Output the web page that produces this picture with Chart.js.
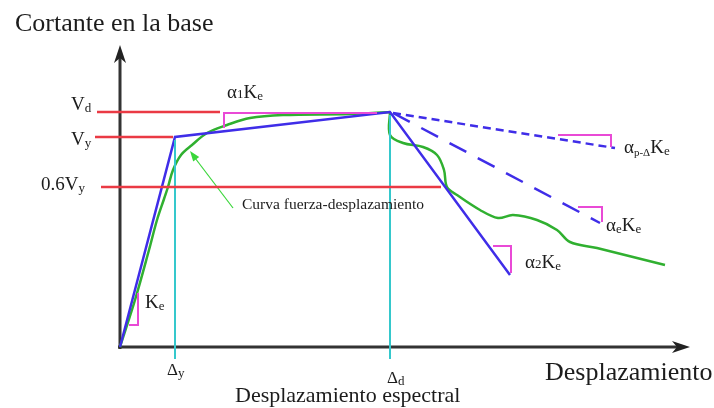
<!DOCTYPE html>
<html>
<head>
<meta charset="utf-8">
<script src="https://cdn.jsdelivr.net/npm/chart.js@4/dist/chart.umd.min.js"></script>
<style>
  html, body { margin: 0; padding: 0; background: #fff; }
  #wrap { width: 714px; height: 408px; }
</style>
</head>
<body>
<div id="wrap"><canvas id="pushover" width="714" height="408"></canvas></div>
<script>
// Values read off the picture, in picture units measured from the origin
// (x = displacement, y = base shear)
const dy = 55, dd = 270;            // Δy, Δd
const vy = 210, vd = 235, v06 = 160; // Vy, Vd, 0.6Vy

const bilinearX = [0, dy, dd, 390];
const bilinearY = [0, vy, vd, 72];

const pdeltaX = [273, 495];
const pdeltaY = [234, 199];
const alphaeX = [273, 480];
const alphaeY = [234, 124];

const curveUpX = [0, 15, 29, 37, 44, 48, 53, 61, 72, 87, 107, 130, 163, 230, 270];
const curveUpY = [0, 47, 97, 127, 148, 160, 177, 192, 202, 214, 222, 229, 232, 233, 235];
const curveDownX = [270, 270, 283, 303, 317, 324, 327, 337, 360, 378, 393, 417, 437, 450, 477, 545];
const curveDownY = [235, 212, 204, 200, 192, 177, 160, 152, 137, 129, 132, 127, 117, 105, 99, 82];

// slope markers (corner-to-corner polylines)
const markerKe = [[18, 54], [18, 22], [9, 22]];
const markerA1 = [[104, 219], [104, 234], [257, 234]];
const markerPD = [[438, 212], [491, 212], [491, 200]];
const markerAe = [[458, 140], [482, 140], [482, 125]];
const markerA2 = [[373, 101], [391, 101], [391, 74]];

const axisTop = 302, axisRight = 570;

function pts(xs, ys) {
    return xs.map((x, i) => ({ x: x, y: ys[i] }));
}
function poly(list) {
    return list.map(p => ({ x: p[0], y: p[1] }));
}

const red = '#ea3a44', cyan = '#35c8cc', blue = '#3f2de8', green = '#30b030', pink = '#e94ad6', ink = '#1c1c1c';

function lineSet(data, color, width, extra) {
    return Object.assign({
        data: data,
        showLine: true,
        borderColor: color,
        borderWidth: width,
        pointRadius: 0,
        fill: false,
        tension: 0
    }, extra || {});
}

const datasets = [
    lineSet([{ x: -23, y: vd }, { x: 100, y: vd }], red, 2.5),
    lineSet([{ x: -25, y: vy }, { x: 53, y: vy }], red, 2.5),
    lineSet([{ x: -19, y: v06 }, { x: 321, y: v06 }], red, 2.5),
    lineSet([{ x: dy, y: vy - 3 }, { x: dy, y: -12 }], cyan, 2),
    lineSet([{ x: dd, y: vd - 3 }, { x: dd, y: -12 }], cyan, 2),
    lineSet(poly(markerKe), pink, 2),
    lineSet(poly(markerA1), pink, 2),
    lineSet(poly(markerPD), pink, 2),
    lineSet(poly(markerAe), pink, 2),
    lineSet(poly(markerA2), pink, 2),
    lineSet(pts(bilinearX, bilinearY), blue, 2.5),
    lineSet(pts(curveUpX, curveUpY), green, 2.5, { tension: 0.35 }),
    lineSet(pts(curveDownX, curveDownY), green, 2.5, { tension: 0.35 }),
    lineSet(pts(pdeltaX, pdeltaY), blue, 2.5, { borderDash: [8, 5] }),
    lineSet(pts(alphaeX, alphaeY), blue, 2.5, { borderDash: [19, 13] }),
    lineSet([{ x: 113, y: 139 }, { x: 72, y: 193 }], '#3ad63a', 1.2),
    lineSet([{ x: -2, y: 0 }, { x: axisRight - 8, y: 0 }], '#333', 3),
    lineSet([{ x: 0, y: -2 }, { x: 0, y: axisTop - 8 }], '#333', 3)
];

// text runs: [text, size, baseline shift]
const SERIF = '"Liberation Serif", "Times New Roman", serif';
const labels = [
    { x: -49, y: 237, runs: [['V', 19, 0], ['d', 13, 2]] },
    { x: -49, y: 202, runs: [['V', 19, 0], ['y', 13, 2]] },
    { x: -79, y: 157, runs: [['0.6V', 19, 0], ['y', 13, 2]] },
    { x: 47, y: -28, runs: [['Δ', 17, 0], ['y', 13, 2]] },
    { x: 267, y: -36, runs: [['Δ', 17, 0], ['d', 13, 2]] },
    { x: 107, y: 249, runs: [['α', 19, 0], ['1', 13, 0], ['K', 19, 0], ['e', 13, 2]] },
    { x: 504, y: 194, runs: [['α', 19, 0], ['p-Δ', 11, 3], ['K', 19, 0], ['e', 13, 2]] },
    { x: 486, y: 116, runs: [['α', 19, 0], ['e', 13, 2], ['K', 19, 0], ['e', 13, 2]] },
    { x: 405, y: 79, runs: [['α', 19, 0], ['2', 13, 0], ['K', 19, 0], ['e', 13, 2]] },
    { x: 25, y: 39, runs: [['K', 19, 0], ['e', 13, 2]] },
    { x: 122, y: 138, runs: [['Curva fuerza-desplazamiento', 15.5, 0]] },
    { x: 115, y: -55, runs: [['Desplazamiento espectral', 22, 0]] },
    { x: 425, y: -33, runs: [['Desplazamiento', 26, 0]] }
];

const annotations = {
    id: 'annotations',
    afterDatasetsDraw(chart) {
        const ctx = chart.ctx;
        const sx = chart.scales.x, sy = chart.scales.y;
        const px = v => sx.getPixelForValue(v);
        const py = v => sy.getPixelForValue(v);

        ctx.save();
        // axis arrowheads
        ctx.fillStyle = '#222';
        ctx.beginPath();
        ctx.moveTo(px(0), py(axisTop));
        ctx.lineTo(px(0) - 6, py(axisTop) + 18);
        ctx.lineTo(px(0), py(axisTop) + 13);
        ctx.lineTo(px(0) + 6, py(axisTop) + 18);
        ctx.closePath();
        ctx.fill();
        ctx.beginPath();
        ctx.moveTo(px(axisRight), py(0));
        ctx.lineTo(px(axisRight) - 18, py(0) - 6);
        ctx.lineTo(px(axisRight) - 13, py(0));
        ctx.lineTo(px(axisRight) - 18, py(0) + 6);
        ctx.closePath();
        ctx.fill();

        // small green arrowhead for the curve label
        const ax = px(70), ay = py(196);
        const ang = Math.atan2(py(139) - ay, px(113) - ax);
        ctx.fillStyle = '#3ad63a';
        ctx.beginPath();
        ctx.moveTo(ax, ay);
        ctx.lineTo(ax + 11 * Math.cos(ang - 0.35), ay + 11 * Math.sin(ang - 0.35));
        ctx.lineTo(ax + 11 * Math.cos(ang + 0.35), ay + 11 * Math.sin(ang + 0.35));
        ctx.closePath();
        ctx.fill();

        // text
        ctx.fillStyle = ink;
        ctx.textBaseline = 'alphabetic';
        ctx.textAlign = 'left';
        labels.forEach(l => {
            let x = px(l.x);
            const y = py(l.y);
            l.runs.forEach(r => {
                ctx.font = r[1] + 'px ' + SERIF;
                ctx.fillText(r[0], x, y + r[2]);
                x += ctx.measureText(r[0]).width;
            });
        });
        ctx.font = '26px ' + SERIF;
        ctx.fillText('Cortante en la base', 15, 31);
        ctx.restore();
    }
};

new Chart(document.getElementById('pushover'), {
    type: 'scatter',
    data: { datasets: datasets },
    options: {
        responsive: false,
        animation: false,
        layout: { padding: 0 },
        plugins: { legend: { display: false }, tooltip: { enabled: false } },
        scales: {
            x: { type: 'linear', min: -120, max: 594, display: false },
            y: { type: 'linear', min: -61, max: 347, display: false }
        }
    },
    plugins: [annotations]
});
</script>
</body>
</html>
